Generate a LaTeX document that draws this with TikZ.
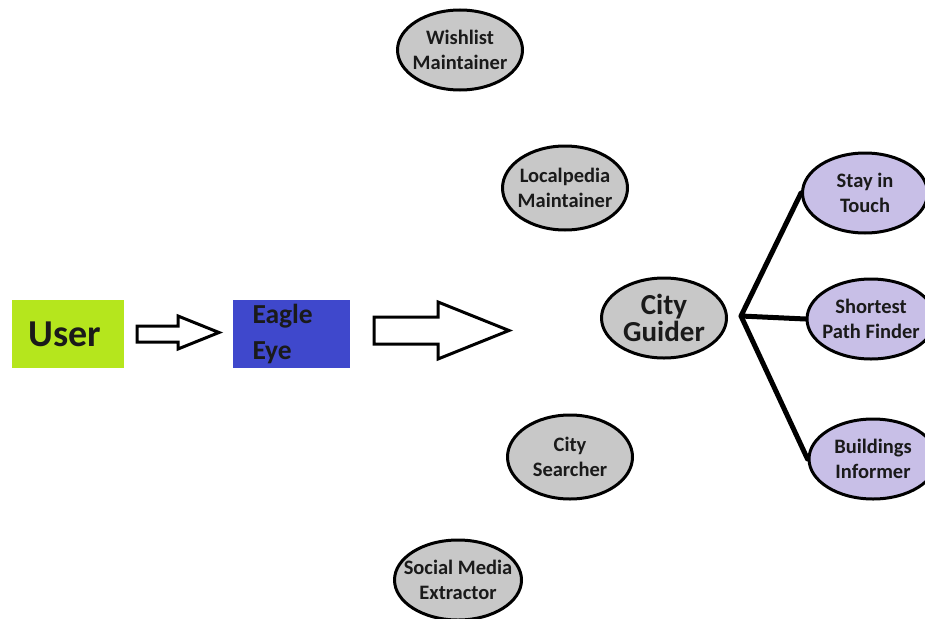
\documentclass[tikz,border=0pt]{standalone}
\usepackage{fontspec}
\setmainfont{Carlito}
\usetikzlibrary{shapes.geometric}
\definecolor{usergreen}{HTML}{B5E61D}
\definecolor{eagleblue}{HTML}{3F48CC}
\definecolor{modgray}{HTML}{C8C8C8}
\definecolor{sublav}{HTML}{C8BFE7}
\definecolor{ink}{HTML}{1A1A1A}
\tikzset{
  module/.style={ellipse, draw=black, line width=3pt, fill=modgray,
    minimum width=125pt, minimum height=80pt, inner xsep=-22pt, inner ysep=0pt,
    align=center, text=ink, font=\bfseries\fontsize{20.5}{25}\selectfont},
  submodule/.style={module, fill=sublav},
  blockarrow/.style={draw=black, line width=3pt, fill=white, line join=miter},
  branch/.style={line width=5pt, line cap=round, line join=round}
}
\begin{document}
\begin{tikzpicture}[x=1pt,y=-1pt]
\useasboundingbox (0,0) rectangle (925,618);
\begin{scope}
\clip (0,0) rectangle (925,618);

% user and front end
\node[fill=usergreen, minimum width=112pt, minimum height=68pt, inner sep=0pt,
  text=ink, font=\bfseries\fontsize{38}{40}\selectfont] (user) at (68,334)
  {\hspace*{-6pt}User};
\node[fill=eagleblue, minimum width=117pt, minimum height=68pt, inner sep=0pt,
  text=ink, font=\bfseries\fontsize{27.5}{36}\selectfont, align=left,
  text width=78pt] (eagle) at (291.5,334) {Eagle\\Eye};

% hollow block arrows
\draw[blockarrow] (137,326) -- (178,326) -- (178,316) -- (219,332.5)
  -- (178,349) -- (178,342) -- (137,342) -- cycle;
\draw[blockarrow] (374,317) -- (438,317) -- (438,302) -- (509,330.5)
  -- (438,359) -- (438,344) -- (374,344) -- cycle;

% service modules
\node[module] (wish) at (460,50) {Wishlist\\Maintainer};
\node[module, minimum height=84pt] (local) at (565,188) {Localpedia\\Maintainer};
\node[module, font=\bfseries\fontsize{29}{27}\selectfont] (guider) at (664,318) {City\\Guider};
\node[module, minimum height=84pt] (search) at (570,457) {City\\Searcher};
\node[module, minimum width=127pt] (social) at (458,580) {Social Media\\Extractor};

% city guider sub-modules
\node[submodule] (stay) at (865,193) {Stay in\\Touch};
\node[submodule, minimum width=128pt] (path) at (871,319) {Shortest\\Path Finder};
\node[submodule, minimum width=128pt] (build) at (873,459) {Buildings\\Informer};

\coordinate (hub) at (741,316);
\draw[branch] (stay.west) -- (hub) -- (build.west);
\draw[branch] (hub) -- (path.west);
\end{scope}
\end{tikzpicture}
\end{document}
